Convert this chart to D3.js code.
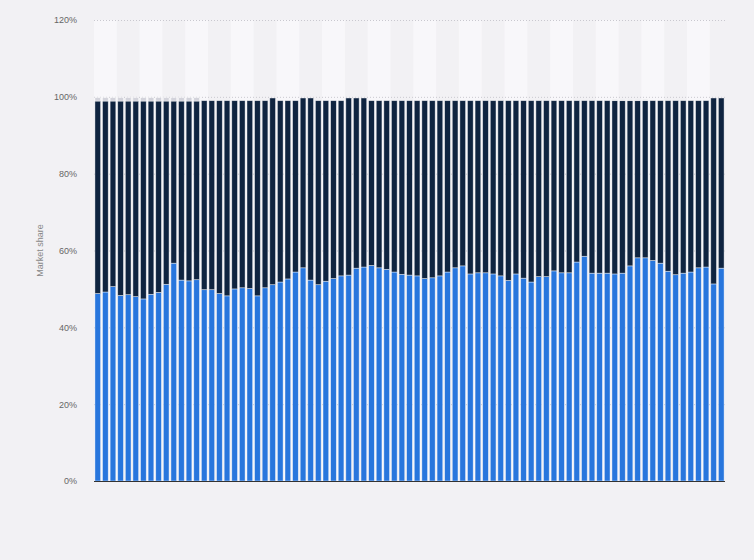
<!DOCTYPE html>
<html>
<head>
<meta charset="utf-8">
<script src="https://cdn.jsdelivr.net/npm/d3@7"></script>
<style>
  html, body { margin: 0; padding: 0; background: #f2f1f4; }
  svg { display: block; font-family: "Liberation Sans", Arial, sans-serif; }
</style>
</head>
<body>
<div class="svg__graph"></div>
<script>
const width = 754;
const height = 560;

// one bar per period, 83 periods
const periods = d3.range(1, 84);

// market share in %, bottom (blue) series
const blueShare = [
  48.8, 49.2, 50.6, 48.3, 48.5, 48.0, 47.4, 48.6, 49.1, 51.2,
  56.7, 52.3, 52.1, 52.4, 49.8, 49.8, 48.8, 48.2, 50.0, 50.3,
  50.1, 48.2, 50.3, 51.1, 51.8, 52.6, 54.4, 55.5, 52.3, 51.1,
  52.0, 52.7, 53.4, 53.6, 55.4, 55.7, 56.1, 55.5, 55.1, 54.4,
  53.8, 53.6, 53.4, 52.7, 52.9, 53.4, 54.4, 55.5, 56.0, 53.9,
  54.2, 54.2, 53.9, 53.4, 52.2, 53.9, 52.8, 51.8, 53.2, 53.2,
  54.7, 54.2, 54.2, 57.0, 58.5, 54.1, 54.1, 54.1, 53.9, 54.1,
  56.0, 58.1, 58.1, 57.4, 56.7, 54.6, 53.7, 54.1, 54.4, 55.5,
  55.7, 51.3, 55.4
];

// market share in %, middle (navy) series
const navyShare = [
  50.1, 49.7, 48.3, 50.6, 50.4, 50.9, 51.5, 50.3, 49.8, 47.7,
  42.2, 46.6, 46.8, 46.5, 49.2, 49.2, 50.2, 50.8, 49.0, 48.7,
  48.9, 50.8, 48.7, 48.6, 47.2, 46.4, 44.6, 44.2, 47.4, 47.9,
  47.0, 46.3, 45.6, 46.1, 44.3, 44.0, 42.9, 43.5, 43.9, 44.6,
  45.2, 45.4, 45.6, 46.3, 46.1, 45.6, 44.6, 43.5, 43.0, 45.1,
  44.8, 44.8, 45.1, 45.6, 46.8, 45.1, 46.2, 47.2, 45.8, 45.8,
  44.3, 44.8, 44.8, 42.0, 40.5, 44.9, 44.9, 44.9, 45.1, 44.9,
  43.0, 40.9, 40.9, 41.6, 42.3, 44.4, 45.3, 44.9, 44.6, 43.5,
  43.3, 48.4, 44.3
];

// market share in %, top (other) series
const otherShare = [
  0.9, 0.9, 0.9, 0.9, 0.9, 0.9, 0.9, 0.9, 0.9, 0.9,
  0.9, 0.9, 0.9, 0.9, 0, 0, 0, 0, 0, 0,
  0, 0, 0, 0, 0, 0, 0, 0, 0, 0,
  0, 0, 0, 0, 0, 0, 0, 0, 0, 0,
  0, 0, 0, 0, 0, 0, 0, 0, 0, 0,
  0, 0, 0, 0, 0, 0, 0, 0, 0, 0,
  0, 0, 0, 0, 0, 0, 0, 0, 0.3, 0.3,
  0.3, 0.3, 0.3, 0, 0, 0, 0, 0, 0, 0,
  0, 0, 0
];

const yTicks = [0, 20, 40, 60, 80, 100, 120];

const seriesKeys = ['blue', 'navy', 'other'];
const seriesColors = { blue: '#2876dd', navy: '#0f2440', other: '#d3d3db' };

const margin = { top: 20, right: 29, bottom: 79, left: 94 };

const svg = d3.select('div.svg__graph').append('svg')
  .attr('width', width)
  .attr('height', height);

const table = periods.map((p, i) => ({
  period: p,
  blue: blueShare[i],
  navy: navyShare[i],
  other: otherShare[i],
}));

const scaleX = d3.scaleBand()
  .domain(periods)
  .range([margin.left, width - margin.right])
  .paddingInner(0.25)
  .paddingOuter(0.12);

const scaleY = d3.scaleLinear()
  .domain([0, 120])
  .range([height - margin.bottom, margin.top]);

// alternating background stripes, three bars wide
const step = scaleX.step();
const stripes = svg.append('g');
stripes.selectAll('rect')
  .data(periods.filter((p, i) => i % 6 === 0))
  .enter()
  .append('rect')
  .attr('x', d => scaleX(d) - step * scaleX.paddingInner() / 2)
  .attr('y', margin.top)
  .attr('width', step * 3)
  .attr('height', scaleY(0) - margin.top)
  .attr('fill', '#f8f7fa');

// dotted grid lines
const grid = svg.append('g');
grid.selectAll('line')
  .data(yTicks.filter(t => t > 0))
  .enter()
  .append('line')
  .attr('x1', margin.left)
  .attr('x2', width - margin.right)
  .attr('y1', d => scaleY(d) + 0.5)
  .attr('y2', d => scaleY(d) + 0.5)
  .attr('stroke', '#c9c8cf')
  .attr('stroke-dasharray', '1,2');

// y axis labels
const yAxis = d3.axisLeft(scaleY)
  .tickValues(yTicks)
  .tickSize(0)
  .tickPadding(17)
  .tickFormat(d => `${d}%`);

const yAxisG = svg.append('g')
  .attr('transform', `translate(${margin.left}, 0)`)
  .call(yAxis);
yAxisG.select('.domain').remove();
yAxisG.selectAll('text')
  .attr('fill', '#666666')
  .style('font-size', '9px');

// y axis title
svg.append('text')
  .attr('transform', `translate(43, ${(scaleY(0) + scaleY(120)) / 2}) rotate(-90)`)
  .attr('text-anchor', 'middle')
  .attr('fill', '#888888')
  .style('font-size', '9px')
  .text('Market share');

// stacked bars
const stacked = d3.stack().keys(seriesKeys)(table);

const bars = svg.append('g');
bars.selectAll('g')
  .data(stacked)
  .enter()
  .append('g')
  .attr('fill', d => seriesColors[d.key])
  .selectAll('rect')
  .data(d => d.filter(s => s[1] - s[0] > 0))
  .enter()
  .append('rect')
  .attr('x', d => scaleX(d.data.period))
  .attr('y', d => scaleY(d[1]))
  .attr('width', scaleX.bandwidth())
  .attr('height', d => scaleY(d[0]) - scaleY(d[1]))
  .attr('stroke', 'rgba(255,255,255,0.6)')
  .attr('stroke-width', 0.7);

// x axis base line
svg.append('line')
  .attr('x1', margin.left)
  .attr('x2', width - margin.right)
  .attr('y1', scaleY(0) + 0.5)
  .attr('y2', scaleY(0) + 0.5)
  .attr('stroke', '#333333')
  .attr('stroke-width', 1);
</script>
</body>
</html>
